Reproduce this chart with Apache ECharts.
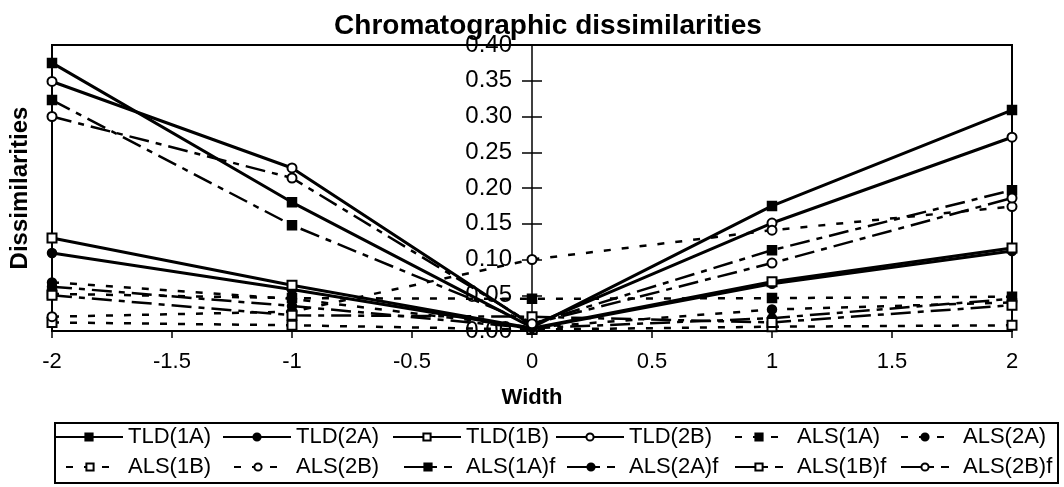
<!DOCTYPE html>
<html>
<head>
<meta charset="utf-8">
<script src="https://cdn.jsdelivr.net/npm/echarts@6/dist/echarts.min.js"></script>
<style>html,body{margin:0;padding:0;background:#fff}#c{width:1064px;height:487px}</style>
</head>
<body>
<div id="c"></div>
<script>
var widths = [-2, -1, 0, 1, 2];
var xTicks = ['-2', '-1.5', '-1', '-0.5', '0', '0.5', '1', '1.5', '2'];
var yTicks = ['0.00', '0.05', '0.10', '0.15', '0.20', '0.25', '0.30', '0.35', '0.40'];
var TLD_1A = [0.375, 0.180, 0.005, 0.175, 0.309];
var TLD_2A = [0.109, 0.058, 0.003, 0.066, 0.112];
var TLD_1B = [0.130, 0.064, 0.004, 0.069, 0.116];
var TLD_2B = [0.349, 0.228, 0.008, 0.151, 0.271];
var ALS_1A = [0.052, 0.046, 0.045, 0.046, 0.048];
var ALS_2A = [0.068, 0.045, 0.005, 0.030, 0.040];
var ALS_1B = [0.012, 0.008, 0.002, 0.006, 0.008];
var ALS_2B = [0.020, 0.027, 0.100, 0.141, 0.174];
var ALS_1Af = [0.323, 0.148, 0.010, 0.113, 0.197];
var ALS_2Af = [0.062, 0.035, 0.004, 0.018, 0.045];
var ALS_1Bf = [0.050, 0.022, 0.020, 0.012, 0.036];
var ALS_2Bf = [0.300, 0.214, 0.010, 0.095, 0.186];

var seriesDefs = [
  {name: 'TLD(1A)', data: TLD_1A, sym: 'rect', kind: 'solid'},
  {name: 'TLD(2A)', data: TLD_2A, sym: 'circle', kind: 'solid'},
  {name: 'TLD(1B)', data: TLD_1B, sym: 'emptyRect', kind: 'solid'},
  {name: 'TLD(2B)', data: TLD_2B, sym: 'emptyCircle', kind: 'solid'},
  {name: 'ALS(1A)', data: ALS_1A, sym: 'rect', kind: 'short'},
  {name: 'ALS(2A)', data: ALS_2A, sym: 'circle', kind: 'short'},
  {name: 'ALS(1B)', data: ALS_1B, sym: 'emptyRect', kind: 'short'},
  {name: 'ALS(2B)', data: ALS_2B, sym: 'emptyCircle', kind: 'short'},
  {name: 'ALS(1A)f', data: ALS_1Af, sym: 'rect', kind: 'long'},
  {name: 'ALS(2A)f', data: ALS_2Af, sym: 'circle', kind: 'long'},
  {name: 'ALS(1B)f', data: ALS_1Bf, sym: 'emptyRect', kind: 'long'},
  {name: 'ALS(2B)f', data: ALS_2Bf, sym: 'emptyCircle', kind: 'long'}
];

var dashFor = {solid: 'solid', short: [7, 11], long: [20, 7, 6, 7]};
var widthFor = {solid: 3, short: 2.5, long: 2.5};

var series = seriesDefs.map(function (d) {
  return {
    name: d.name,
    type: 'line',
    data: widths.map(function (w, i) { return [w, d.data[i]]; }),
    symbol: d.sym,
    symbolSize: 9,
    showSymbol: true,
    color: '#000',
    itemStyle: {color: '#000', borderColor: '#000', borderWidth: 1.5},
    lineStyle: {color: '#000', width: widthFor[d.kind], type: dashFor[d.kind]},
    emphasis: {disabled: true}
  };
});

var colText = [127, 295, 465, 628, 796, 962];
var rowY = [438, 468];
var legends = seriesDefs.map(function (d, i) {
  var row = i < 6 ? 0 : 1;
  var col = i % 6;
  var iw = d.kind === 'solid' ? 68 : 48;
  var gap = d.kind === 'solid' ? 5 : 14;
  return {
    data: [d.name],
    left: colText[col] - gap - iw,
    top: rowY[row] - 12,
    itemWidth: iw,
    itemHeight: 9,
    itemGap: 0,
    padding: 0,
    selectedMode: false,
    textStyle: {fontFamily: 'Liberation Sans, Arial', fontSize: 22, color: '#000', padding: [0, 0, 0, gap - 5]}
  };
});

var GRID_L = 52, GRID_R = 52, W = 1064;
var zeroOffset = -((W - GRID_L - GRID_R) / 2);

var chart = echarts.init(document.getElementById('c'), null, {renderer: 'canvas'});
chart.setOption({
  animation: false,
  backgroundColor: '#fff',
  title: {
    text: 'Chromatographic dissimilarities',
    left: 543, top: 7, textAlign: 'center',
    textStyle: {fontFamily: 'Liberation Sans, Arial', fontSize: 28, fontWeight: 'bold', color: '#000'}
  },
  legend: legends,
  grid: {left: GRID_L, right: GRID_R, top: 45, bottom: 156, show: true, borderColor: '#000', borderWidth: 2,
    containLabel: false, outerBoundsMode: 'none'},
  xAxis: {
    type: 'value', min: -2, max: 2, interval: 0.5,
    name: 'Width', nameLocation: 'middle', nameGap: 56,
    nameTextStyle: {fontFamily: 'Liberation Sans, Arial', fontSize: 22, fontWeight: 'bold', color: '#000'},
    axisLine: {show: true, onZero: false, lineStyle: {color: '#000', width: 2}},
    axisTick: {show: true, length: 7, lineStyle: {color: '#000', width: 1.5}},
    axisLabel: {fontFamily: 'Liberation Sans, Arial', fontSize: 22, color: '#000', margin: 20,
      formatter: function (v) { var i = Math.round((v + 2) / 0.5); return xTicks[i]; }},
    splitLine: {show: false}
  },
  yAxis: [{
    type: 'value', min: 0, max: 0.4, interval: 0.05, position: 'left', offset: zeroOffset,
    axisLine: {show: true, onZero: false, lineStyle: {color: '#000', width: 1.5}},
    axisTick: {show: true, length: 10, lineStyle: {color: '#000', width: 1.5}},
    axisLabel: {fontFamily: 'Liberation Sans, Arial', fontSize: 24, color: '#000', margin: 20,
      formatter: function (v) { return yTicks[Math.round(v / 0.05)]; }},
    splitLine: {show: false}
  }, {
    type: 'value', min: 0, max: 0.4, interval: 0.05, position: 'left', offset: zeroOffset,
    axisLine: {show: false, onZero: false},
    axisTick: {show: true, inside: true, length: 10, lineStyle: {color: '#000', width: 1.5}},
    axisLabel: {show: false},
    splitLine: {show: false}
  }, {
    type: 'value', min: 0, max: 0.4, interval: 0.05, position: 'left', offset: 0,
    name: 'Dissimilarities', nameLocation: 'middle', nameGap: 20,
    nameTextStyle: {fontFamily: 'Liberation Sans, Arial', fontSize: 24, fontWeight: 'bold', color: '#000'},
    axisLine: {show: false, onZero: false},
    axisTick: {show: false},
    axisLabel: {show: false},
    splitLine: {show: false}
  }],
  graphic: [
    {type: 'rect', shape: {x: 55, y: 423, width: 1003, height: 60},
      style: {fill: null, stroke: '#000', lineWidth: 2}, z: -1}
  ],
  series: series
});
</script>
</body>
</html>
